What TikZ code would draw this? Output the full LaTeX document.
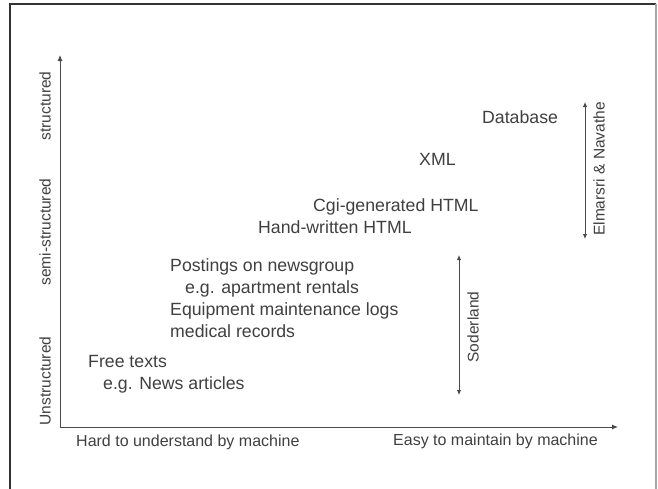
\documentclass[tikz,border=0pt]{standalone}
\usepackage{fontspec}
\setmainfont{Liberation Sans}
\usepackage{tikz}
\usetikzlibrary{arrows.meta}

\definecolor{inkgray}{HTML}{404040}
\definecolor{linegray}{HTML}{4A4A4A}

\tikzset{
	item/.style={anchor=base west,inner sep=0pt,text=inkgray,font=\fontsize{17.7}{20}\selectfont},
	axislabel/.style={anchor=base west,inner sep=0pt,text=inkgray,font=\fontsize{16}{18}\selectfont},
	sidelabel/.style={rotate=90,inner sep=0pt,text=inkgray,font=\fontsize{15.5}{18}\selectfont},
	spanarrow/.style={{Latex[length=5pt,width=4.5pt]}-{Latex[length=5pt,width=4.5pt]},linegray,line width=0.9pt},
	axisarrow/.style={-{Latex[length=6pt,width=5pt]},linegray,line width=0.9pt}
}

\begin{document}
\begin{tikzpicture}[x=1pt,y=-1pt]
		\useasboundingbox (0,0) rectangle (658,488);
		\fill[white] (0,0) rectangle (658,488);
		% frame
		\draw[line width=1.4pt,black!80] (10,490) -- (10,4) -- (656,4);
		\draw[line width=1.2pt,black!35] (656,4) -- (656,490);
		% axes
		\coordinate (origin) at (60,427);
		\coordinate (ytop) at (60,55);
		\coordinate (xend) at (618,427);
		\draw[axisarrow] (origin) -- (ytop);
		\draw[axisarrow] (origin) -- (xend);
		\node[sidelabel] (structured) at (45,106) {structured};
		\node[sidelabel] (semi) at (45,232) {semi-structured};
		\node[sidelabel] (unstructured) at (45,381) {Unstructured};
		\node[axislabel] (hard) at (76,446) {Hard to understand by machine};
		\node[axislabel] (easy) at (393,445) {Easy to maintain by machine};
		% data kinds
		\node[item] (database) at (482,123) {Database};
		\node[item] (xml) at (419,165) {XML};
		\node[item] (cgi) at (313,211) {Cgi-generated HTML};
		\node[item] (handhtml) at (258,233) {Hand-written HTML};
		\node[item] (postings) at (170,271) {Postings on newsgroup};
		\node[item] (rentals) at (185,293) {e.g. apartment rentals};
		\node[item] (logs) at (170,315) {Equipment maintenance logs};
		\node[item] (medical) at (170,337) {medical records};
		\node[item] (freetext) at (88,367) {Free texts};
		\node[item] (news) at (103,389) {e.g. News articles};
		% ranges
		\coordinate (sodtop) at (459,255);
		\coordinate (sodbot) at (459,395);
		\draw[spanarrow] (sodtop) -- (sodbot);
		\node[sidelabel] (soderland) at (473,327) {Soderland};
		\coordinate (elmtop) at (585,102);
		\coordinate (elmbot) at (585,239);
		\draw[spanarrow] (elmtop) -- (elmbot);
		\node[sidelabel] (elmasri) at (599,169) {Elmarsri \& Navathe};
	\end{tikzpicture}
\end{document}
